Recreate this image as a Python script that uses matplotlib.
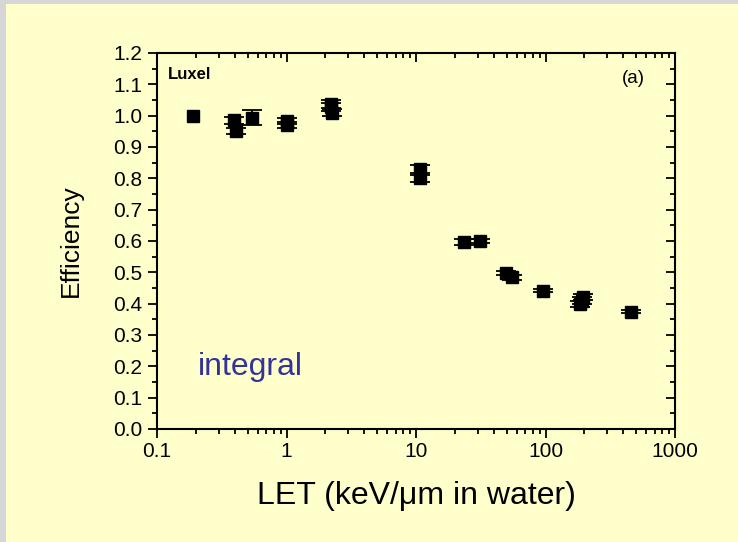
import numpy as np
import matplotlib
matplotlib.use('Agg')
import matplotlib.pyplot as plt
from matplotlib.patches import Rectangle
from matplotlib.ticker import MultipleLocator, FixedLocator, FixedFormatter, LogLocator, NullFormatter

plt.rcParams['font.family'] = ['Liberation Sans', 'DejaVu Sans']

# LET (keV/um in water) and efficiency
let = [0.19, 0.39, 0.41, 0.54, 1.0, 1.0, 2.2, 2.2, 2.25, 10.7, 10.7,
       23.6, 31.2, 49.5, 54.8, 95, 196, 190, 185, 455]
eff = [1.000, 0.985, 0.952, 0.994, 0.982, 0.970, 1.038, 1.028, 1.010, 0.830, 0.800,
       0.597, 0.600, 0.497, 0.485, 0.441, 0.422, 0.410, 0.400, 0.375]
eff_err = [0.0, 0.012, 0.010, 0.025, 0.010, 0.010, 0.012, 0.012, 0.012, 0.012, 0.012,
           0.010, 0.006, 0.006, 0.008, 0.005, 0.010, 0.010, 0.010, 0.006]

xticks = [0.1, 1, 10, 100, 1000]
xticklabels = ['0.1', '1', '10', '100', '1000']

bg = '#ffffcc'
fig = plt.figure(figsize=(7.38, 5.42), dpi=100, facecolor=bg)
# grey frame on the top and left edges
fig.patches.append(Rectangle((0, 0), 6 / 738, 1, transform=fig.transFigure,
                             facecolor='#d6d6d6', edgecolor='none', zorder=0))
fig.patches.append(Rectangle((0, 1 - 4 / 542), 1, 4 / 542, transform=fig.transFigure,
                             facecolor='#d6d6d6', edgecolor='none', zorder=0))

ax = fig.add_axes([157 / 738, 113 / 542, 518 / 738, 376 / 542])
ax.set_facecolor(bg)

let_a = np.array(let)
eff_a = np.array(eff)
err_a = np.array(eff_err)
has_err = err_a > 0
ax.errorbar(let_a[has_err], eff_a[has_err], yerr=err_a[has_err], fmt='s', ms=8.5,
            color='black', mfc='black', mec='black', ecolor='black',
            elinewidth=1.3, capsize=7, capthick=1.3)
ax.plot(let_a[~has_err], eff_a[~has_err], 's', ms=8.5, color='black')

ax.set_xscale('log')
ax.set_xlim(0.1, 1000)
ax.set_ylim(0.0, 1.2)
ax.xaxis.set_major_locator(FixedLocator(xticks))
ax.xaxis.set_major_formatter(FixedFormatter(xticklabels))
ax.xaxis.set_minor_locator(LogLocator(base=10, subs=np.arange(2, 10), numticks=20))
ax.xaxis.set_minor_formatter(NullFormatter())
ax.yaxis.set_major_locator(MultipleLocator(0.1))
ax.yaxis.set_minor_locator(MultipleLocator(0.05))
ax.yaxis.set_major_formatter(matplotlib.ticker.FormatStrFormatter('%.1f'))

for s in ax.spines.values():
    s.set_linewidth(1.5)

ax.tick_params(which='both', direction='out', width=1.3, labelsize=15, pad=4,
               colors='black')
ax.tick_params(axis='x', pad=3)
ax.tick_params(which='major', length=6.5)
ax.tick_params(which='minor', length=3.5)

# inward ticks on the top and right edges
ax2 = ax.twinx()
ax2.set_ylim(ax.get_ylim())
ax2.yaxis.set_major_locator(MultipleLocator(0.1))
ax2.yaxis.set_minor_locator(MultipleLocator(0.05))
ax2.tick_params(which='both', direction='in', width=1.3, labelright=False)
ax2.tick_params(which='major', length=6.5)
ax2.tick_params(which='minor', length=3.5)
ax3 = ax.twiny()
ax3.set_xscale('log')
ax3.set_xlim(ax.get_xlim())
ax3.xaxis.set_major_locator(FixedLocator(xticks))
ax3.xaxis.set_minor_locator(LogLocator(base=10, subs=np.arange(2, 10), numticks=20))
ax3.tick_params(which='both', direction='in', width=1.3, labeltop=False)
ax3.tick_params(which='major', length=6.5)
ax3.tick_params(which='minor', length=3.5)
for a in (ax2, ax3):
    for s in a.spines.values():
        s.set_visible(False)

ax.set_xlabel('LET (keV/\u03bcm in water)', fontsize=23, labelpad=14)
ax.set_ylabel('Efficiency', fontsize=19, labelpad=22)

ax.text(0.021, 0.962, 'Luxel', transform=ax.transAxes, fontsize=12,
        fontweight='bold', va='top', ha='left')
ax.text(0.92, 0.955, '(a)', transform=ax.transAxes, fontsize=13.5,
        va='top', ha='center')
ax.text(0.078, 0.125, 'integral', transform=ax.transAxes, fontsize=23,
        color='#333399', va='bottom', ha='left')

fig.savefig('out.png', dpi=100, facecolor=bg)
